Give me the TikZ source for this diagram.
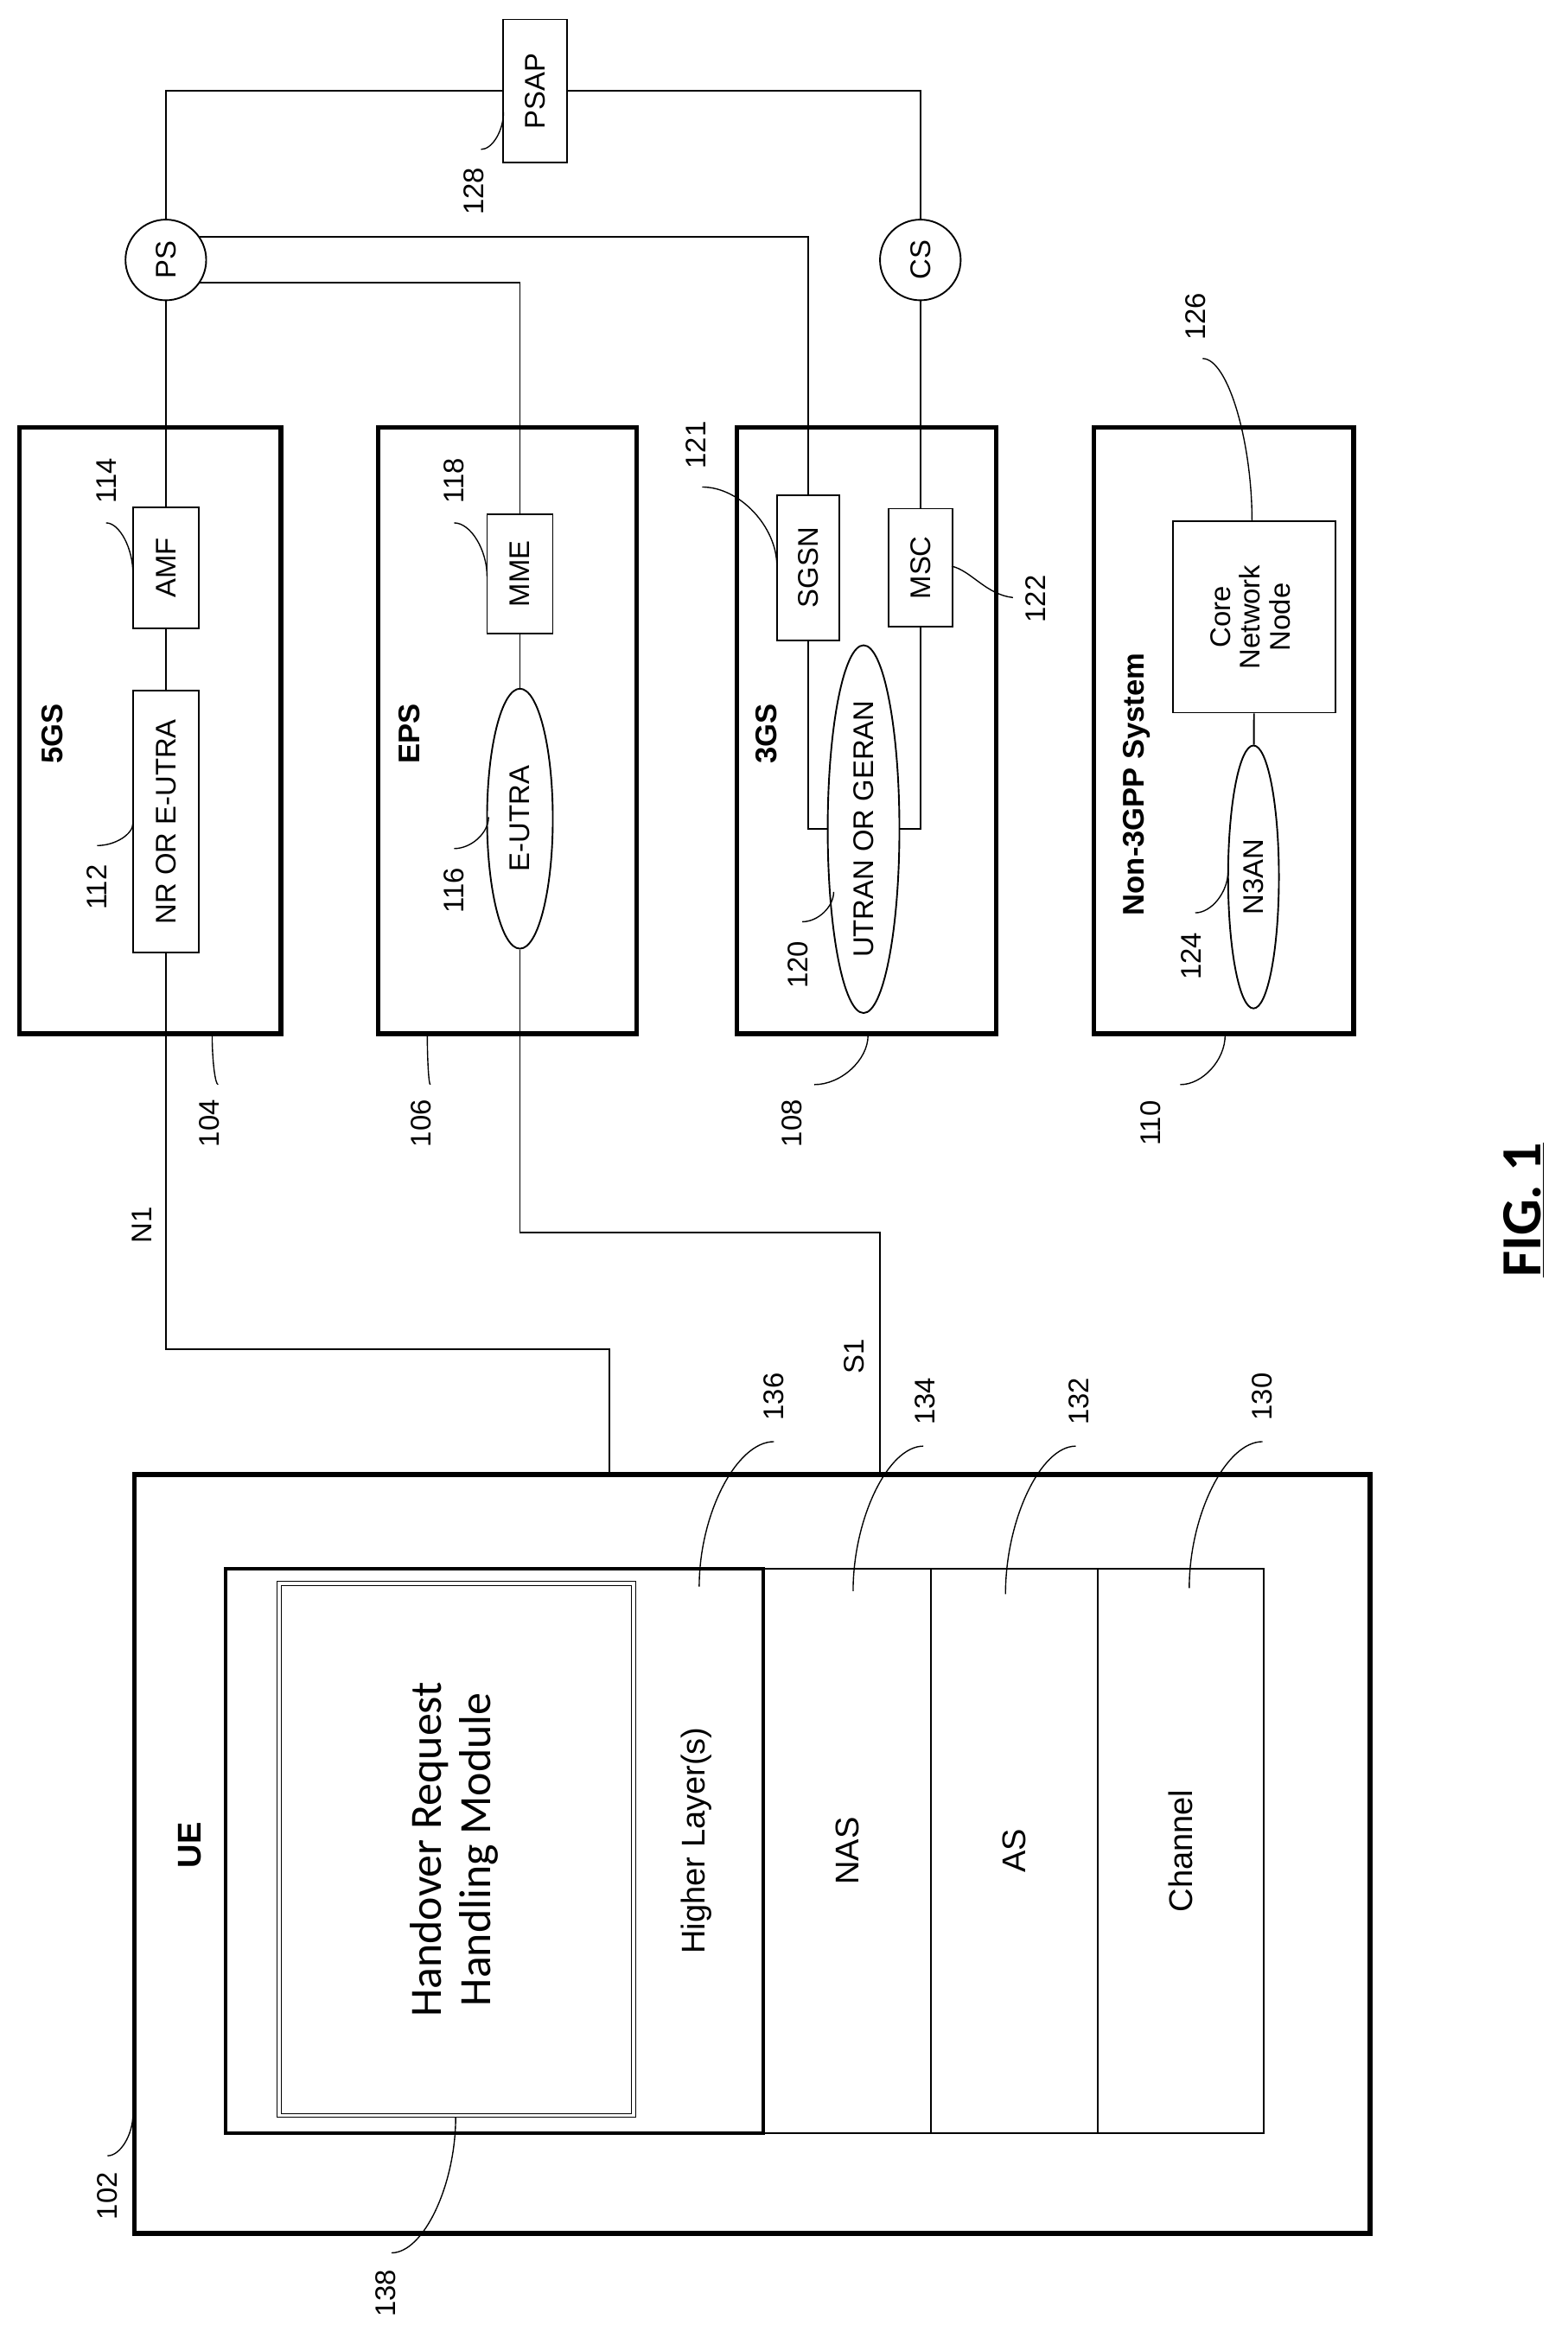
\documentclass[tikz,border=0pt]{standalone}
\usepackage{fontspec}
\setmainfont{Liberation Sans}
\newfontfamily\carl{Carlito}
\usetikzlibrary{shapes.geometric,calc}
\newcommand{\rt}[1]{\rotatebox{90}{#1}}
\begin{document}
\begin{tikzpicture}[x=1pt,y=-1pt,
  thin line/.style={line width=1.1pt},
  box/.style={draw,line width=1.1pt,inner sep=0pt},
  bigbox/.style={draw,line width=3pt,inner sep=0pt},
  ell/.style={draw,ellipse,line width=1.1pt,inner sep=0pt,fill=white},
  circ/.style={draw,circle,line width=1.1pt,inner sep=0pt,minimum size=54pt,font=\fontsize{19}{19}\selectfont},
  lab/.style={font=\fontsize{19}{20}\selectfont,inner sep=1pt},
  ref/.style={font=\fontsize{19}{19}\selectfont,inner sep=1pt},
  title/.style={font=\bfseries\fontsize{20}{20}\selectfont,inner sep=0pt},
  lead/.style={line width=0.8pt}]
\useasboundingbox (0,0) rectangle (1049,1565);

% systems
\node[bigbox,minimum width=175pt,minimum height=406pt] (g5) at (100.5,489) {};
\node[bigbox,minimum width=173pt,minimum height=406pt] (eps) at (339.5,489) {};
\node[bigbox,minimum width=174pt,minimum height=406pt] (g3) at (580,489) {};
\node[bigbox,minimum width=174pt,minimum height=406pt] (n3) at (819,489) {};
\node[title] (t5) at (35,491) {\rt{5GS}};
\node[title] (teps) at (274,491) {\rt{EPS}};
\node[title] (t3) at (513,491) {\rt{3GS}};
\node[title] (tn3) at (761,525) {\rt{Non-3GPP System}};

\node[box,lab,minimum width=44pt,minimum height=81pt] (amf) at (111,380) {\rt{AMF}};
\node[box,lab,minimum width=44pt,minimum height=175pt] (nr) at (111,550) {\rt{NR OR E-UTRA}};
\node[box,lab,minimum width=44pt,minimum height=80pt] (mme) at (348,384) {\rt{MME}};
\node[ell,lab,minimum width=44pt,minimum height=174pt] (eutra) at (348,548) {\rt{E-UTRA}};
\node[box,lab,minimum width=42pt,minimum height=97pt] (sgsn) at (541,380) {\rt{SGSN}};
\node[box,lab,minimum width=43pt,minimum height=79pt] (msc) at (616,380) {\rt{MSC}};
\coordinate (b1) at (541,555);
\coordinate (b2) at (616,555);
\draw[thin line] (sgsn) -- (b1) -- (b2) -- (msc);
\node[ell,lab,minimum width=48pt,minimum height=240pt] (utran) at (578,555) {\rt{UTRAN OR GERAN}};
\node[box,lab,minimum width=109pt,minimum height=128pt] (cn) at (839.5,413) {\rt{\begin{tabular}{@{}c@{}}Core\\Network\\Node\end{tabular}}};
\node[ell,lab,minimum width=34pt,minimum height=176pt] (n3an) at (839,587) {\rt{N3AN}};

\node[circ] (ps) at (111,174) {\rt{PS}};
\node[circ] (cs) at (616,174) {\rt{CS}};
\node[box,lab,minimum width=43pt,minimum height=96pt] (psap) at (358,61) {\rt{PSAP}};

\draw[thin line] (ps) |- (psap);
\draw[thin line] (psap) -| (cs);
\draw[thin line] (ps.34) -| (sgsn);
\draw[thin line] (ps.-34) -| (mme);
\draw[thin line] (ps) -- (amf);
\draw[thin line] (amf) -- (nr);
\draw[thin line] (mme) -- (eutra);
\draw[thin line] (cs) -- (msc);
\draw[thin line] (cn) -- (n3an);

% UE
\node[bigbox,minimum width=827pt,minimum height=508pt] (ue) at (503.5,1241) {};
\node[title,font=\bfseries\fontsize{22}{22}\selectfont] (tue) at (127,1235) {\rt{UE}};
\node[draw,line width=2.2pt,inner sep=0pt,minimum width=360pt,minimum height=378pt] (hl) at (331,1239) {};
\node[box,minimum width=112pt,minimum height=378pt] (nas) at (567,1239) {};
\node[box,minimum width=112pt,minimum height=378pt] (as) at (679,1239) {};
\node[box,minimum width=111pt,minimum height=378pt] (ch) at (790.5,1239) {};
\node[draw,double,double distance=2pt,line width=0.7pt,inner sep=0pt,minimum width=237pt,minimum height=356pt,
  font=\carl\fontsize{30}{33}\selectfont] (mod) at (305.5,1238) {\rt{\begin{tabular}{@{}c@{}}Handover Request\\Handling Module\end{tabular}}};
\node[font=\fontsize{22}{22}\selectfont] (thl) at (466,1232) {\rt{Higher Layer(s)}};
\node[font=\fontsize{22}{22}\selectfont] at (nas) {\rt{NAS}};
\node[font=\fontsize{22}{22}\selectfont] at (as) {\rt{AS}};
\node[font=\fontsize{22}{22}\selectfont] at (ch) {\rt{Channel}};

% N1 / S1
\coordinate (n1b) at (111,903);
\coordinate (n1c) at (408,903);
\draw[thin line] (nr) -- (n1b) -- (n1c) -- (n1c |- ue.north);
\coordinate (s1b) at (348,825);
\coordinate (s1c) at (589,825);
\draw[thin line] (eutra) -- (s1b) -- (s1c) -- (s1c |- ue.north);
\node[ref] (ln1) at (95,820) {\rt{N1}};
\node[ref] (ls1) at (572,908) {\rt{S1}};

% reference numerals
\foreach \n/\lx/\ly/\ax/\ay/\bx/\by in {
  102/72/1470/72/1443/89/1415,
  138/258/1535/262/1508/305/1417,
  136/518/935/518/965/468/1062,
  134/619/938/618/968/571/1065,
  132/722/938/720/968/673/1067,
  130/845/935/845/965/796/1063,
  104/140/752/146/726/142/693,
  106/282/752/288/726/286/693,
  108/530/752/545/726/581/693,
  110/770/752/790/726/820/693,
  114/71/322/71/350/89/384,
  112/65/594/65/566/89/551,
  118/304/322/304/350/326/386,
  116/304/596/304/568/327/547,
  121/466/298/470/326/520/379,
  120/534/646/537/617/558/597,
  124/797/640/800/611/822/583,
  126/800/212/805/240/838/349,
  128/317/128/322/100/337/75}{
  \node[ref] (r\n) at (\lx,\ly) {\rt{\n}};
  \coordinate (e\n) at (\bx,\by);
  \draw[lead] (\ax,\ay) .. controls ($(\ax,\ay)!0.5!(\bx,\ay)$) and ($(\bx,\ay)!0.5!(\bx,\by)$) .. (e\n);
}
\node[ref] (r122) at (693,401) {\rt{122}};
\coordinate (e122) at (637,379);
\draw[lead] (678,400) .. controls (660,398) and (650,382) .. (e122);

\node[font=\carl\bfseries\fontsize{38}{38}\selectfont] (fig) at (1020,810) {\rt{\underline{FIG. 1}}};
\end{tikzpicture}
\end{document}
